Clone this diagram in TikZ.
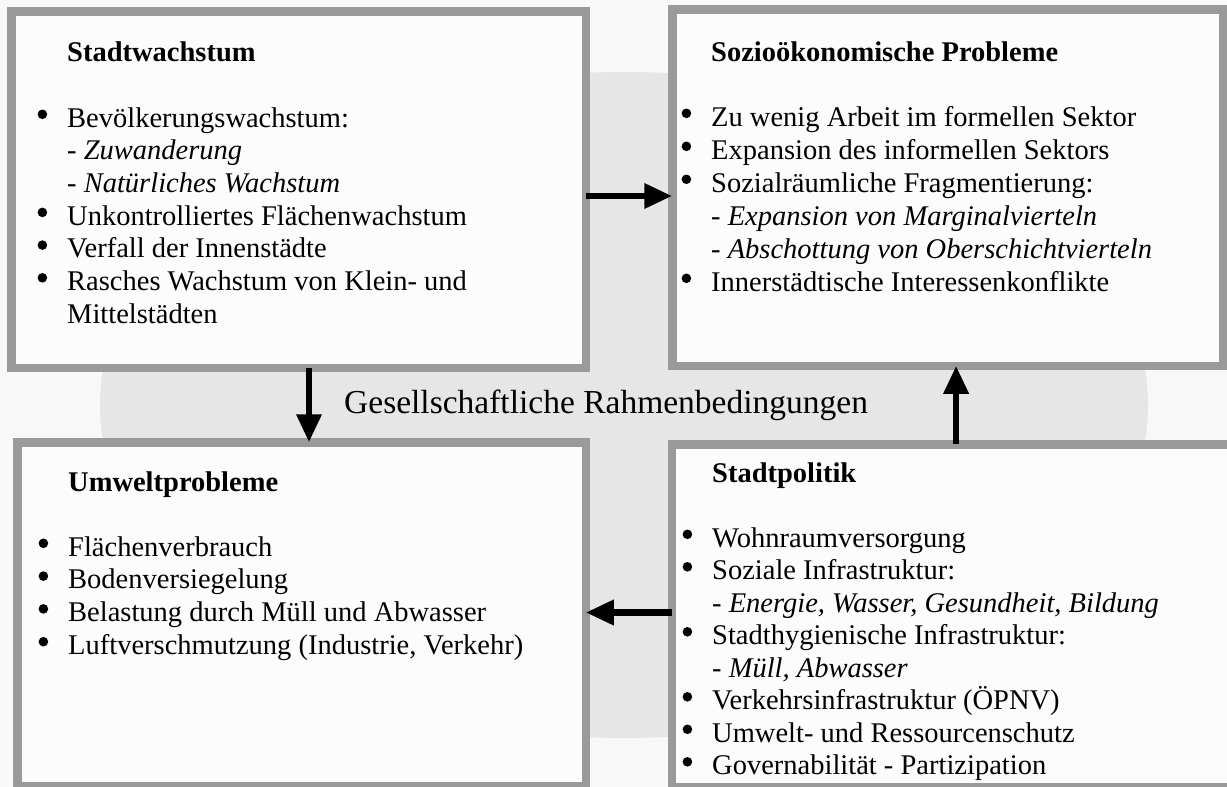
\documentclass[tikz,border=0pt]{standalone}
\usepackage{graphicx}
\usepackage{fontspec}
\setmainfont{Liberation Serif}
\usetikzlibrary{arrows.meta,calc}
\definecolor{bordergray}{HTML}{9A9A9A}
\definecolor{ellgray}{HTML}{E6E6E6}
\definecolor{pagebg}{HTML}{F8F8F8}
\definecolor{boxfill}{HTML}{FCFCFC}
\newcommand{\bul}{\makebox[0pt][r]{\tikz[baseline=0pt,x=1pt,y=1pt]\fill[black] (0pt,12.7pt) circle[radius=4.8pt];\hspace{20pt}}}
\tikzset{
  box/.style={draw=bordergray, line width=8.5pt, fill=boxfill, rectangle, inner sep=0pt, outer sep=0pt},
  txt/.style={anchor=base west, inner sep=0pt, font=\fontsize{28.5}{32}\selectfont},
  ttl/.style={anchor=base west, inner sep=0pt, font=\fontsize{28.5}{32}\selectfont\bfseries},
  lbl/.style={anchor=base west, inner sep=0pt, font=\fontsize{33.5}{36}\selectfont},
  arr/.style={line width=6.5pt, -{Triangle[length=28pt,width=24pt]}},
}
\begin{document}
\begin{tikzpicture}[x=1pt,y=-1pt]
\useasboundingbox (0,0) rectangle (1227,787);
\clip (0,0) rectangle (1227,787);
\fill[pagebg] (0,0) rectangle (1227,787);
\fill[ellgray] (624,405) ellipse [x radius=524pt, y radius=333pt];

% boxes
\node[box, minimum width=574.5pt, minimum height=356.5pt] (tl) at (298.5,189.5) {};
\node[box, minimum width=550.5pt, minimum height=356.5pt] (tr) at (947.5,187.5) {};
\node[box, minimum width=568.5pt, minimum height=343.5pt] (bl) at (301.5,614) {};
\node[box, minimum width=567.75pt, minimum height=342.5pt] (br) at (956.1,615.5) {};

% top left
\node[ttl] (tlh) at (67,61) {Stadtwachstum};
\foreach \t [count=\i from 0] in {
  {\bul Bevölkerungswachstum:},
  {- \textit{Zuwanderung}},
  {- \textit{Natürliches Wachstum}},
  {\bul Unkontrolliertes Flächenwachstum},
  {\bul Verfall der Innenstädte},
  {\bul Rasches Wachstum von Klein- und},
  {Mittelstädten}}
  \node[txt] (tl\i) at (67,127+\i*32.7) {\t};

% top right
\node[ttl] (trh) at (711,61) {Sozioökonomische Probleme};
\foreach \t [count=\i from 0] in {
  {\bul Zu wenig Arbeit im formellen Sektor},
  {\bul Expansion des informellen Sektors},
  {\bul Sozialräumliche Fragmentierung:},
  {- \textit{Expansion von Marginalvierteln}},
  {- \textit{Abschottung von Oberschichtvierteln}},
  {\bul Innerstädtische Interessenkonflikte}}
  \node[txt] (tr\i) at (711,126+\i*33) {\t};

% bottom left
\node[ttl] (blh) at (68,491) {Umweltprobleme};
\foreach \t [count=\i from 0] in {
  {\bul Flächenverbrauch},
  {\bul Bodenversiegelung},
  {\bul Belastung durch Müll und Abwasser},
  {\bul Luftverschmutzung (Industrie, Verkehr)}}
  \node[txt] (bl\i) at (68,556+\i*32.8) {\t};

% bottom right
\node[ttl] (brh) at (712,482) {Stadtpolitik};
\foreach \t [count=\i from 0] in {
  {\bul Wohnraumversorgung},
  {\bul Soziale Infrastruktur:},
  {- \textit{Energie, Wasser, Gesundheit, Bildung}},
  {\bul Stadthygienische Infrastruktur:},
  {- \textit{Müll, Abwasser}},
  {\bul Verkehrsinfrastruktur (ÖPNV)},
  {\bul Umwelt- und Ressourcenschutz},
  {\bul Governabilität - Partizipation}}
  \node[txt] (br\i) at (712,547+\i*32.5) {\t};

% centre label
\node[lbl] (rahmen) at (344,413) {Gesellschaftliche Rahmenbedingungen};

% arrows
\coordinate (rstart) at ($(tl.east)+(0,6.5)$);
\coordinate (dstart) at ($(tl.south)+(10.5,0)$);
\coordinate (lstart) at ($(br.west)+(0,-3)$);
\draw[arr] (rstart) -- (rstart -| tr.west);
\draw[arr] (dstart) -- (dstart |- bl.north);
\draw[arr] (br.north) -- (br.north |- tr.south);
\draw[arr] (lstart) -- (lstart -| bl.east);
\end{tikzpicture}
\end{document}
